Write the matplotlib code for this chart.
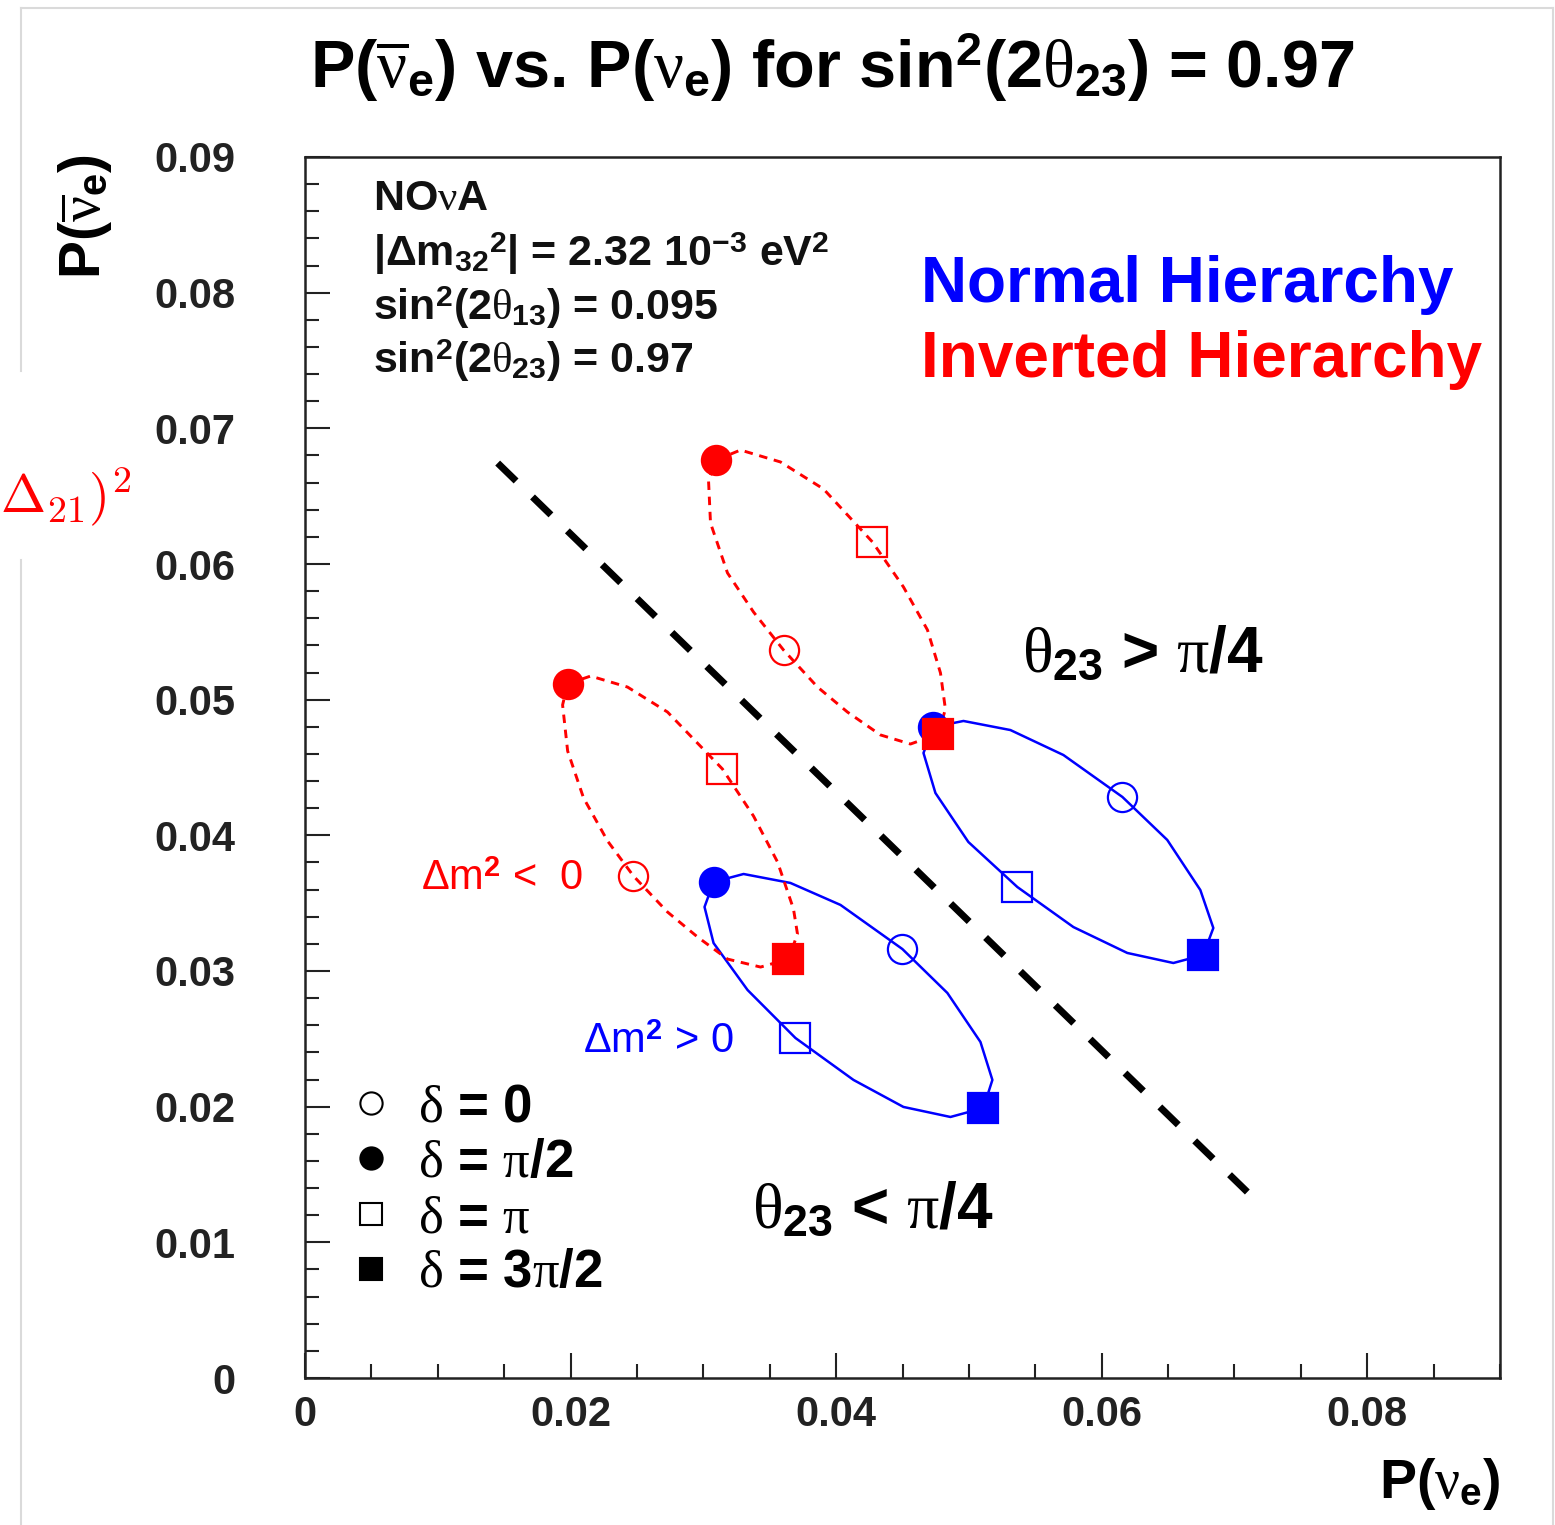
import matplotlib
matplotlib.use("Agg")
import matplotlib.pyplot as plt
from matplotlib.lines import Line2D

plt.rcParams['font.family'] = ['Liberation Sans', 'DejaVu Sans']
plt.rcParams['mathtext.fontset'] = 'custom'
plt.rcParams['mathtext.rm'] = 'Liberation Sans:bold'
plt.rcParams['mathtext.bf'] = 'Liberation Sans:bold'
plt.rcParams['mathtext.it'] = 'Liberation Serif'
plt.rcParams['mathtext.sf'] = 'Liberation Sans'

# ellipses P(nubar) vs P(nu) (closed loops)
nh_hi_x = [0.04733, 0.04959, 0.05313, 0.05712, 0.06156, 0.06494, 0.06743, 0.06841, 0.06765,
           0.06540, 0.06193, 0.05787, 0.05365, 0.04996, 0.04748, 0.04658, 0.04733]
nh_hi_y = [0.04798, 0.04843, 0.04776, 0.04592, 0.04283, 0.03966, 0.03597, 0.03317, 0.03118,
           0.03059, 0.03133, 0.03324, 0.03619, 0.03951, 0.04312, 0.04607, 0.04798]

nh_lo_x = [0.03077, 0.03303, 0.03656, 0.04033, 0.04499, 0.04838, 0.05087, 0.05177, 0.05109,
           0.04861, 0.04507, 0.04131, 0.03694, 0.03333, 0.03077, 0.03009, 0.03077]
nh_lo_y = [0.03656, 0.03715, 0.03649, 0.03487, 0.03162, 0.02838, 0.02477, 0.02197, 0.01990,
           0.01924, 0.01998, 0.02197, 0.02506, 0.02860, 0.03206, 0.03472, 0.03656]

ih_hi_x = [0.03099, 0.03280, 0.03581, 0.03905, 0.04274, 0.04507, 0.04688, 0.04786, 0.04823, 0.04771,
           0.04560, 0.04334, 0.04085, 0.03860, 0.03604, 0.03378, 0.03182, 0.03054, 0.03039, 0.03099]
ih_hi_y = [0.06767, 0.06840, 0.06752, 0.06553, 0.06162, 0.05831, 0.05514, 0.05197, 0.04931, 0.04747,
           0.04673, 0.04740, 0.04909, 0.05093, 0.05366, 0.05646, 0.05934, 0.06302, 0.06619, 0.06767]

ih_lo_x = [0.01978, 0.02151, 0.02429, 0.02730, 0.03144, 0.03378, 0.03559, 0.03679, 0.03709, 0.03641,
           0.03431, 0.03182, 0.02956, 0.02730, 0.02474, 0.02279, 0.02098, 0.01978, 0.01940, 0.01978]
ih_lo_y = [0.05116, 0.05174, 0.05093, 0.04909, 0.04489, 0.04142, 0.03803, 0.03457, 0.03273, 0.03088,
           0.03029, 0.03088, 0.03251, 0.03435, 0.03700, 0.03958, 0.04275, 0.04622, 0.04961, 0.05116]

# marked points, order: delta = 0, pi/2, pi, 3pi/2
nh_hi_mx = [0.06156, 0.04733, 0.05365, 0.06765]
nh_hi_my = [0.04283, 0.04798, 0.03619, 0.03118]
nh_lo_mx = [0.04499, 0.03077, 0.03694, 0.05109]
nh_lo_my = [0.03162, 0.03656, 0.02506, 0.01990]
ih_hi_mx = [0.03604, 0.03099, 0.04274, 0.04771]
ih_hi_my = [0.05366, 0.06767, 0.06162, 0.04747]
ih_lo_mx = [0.02474, 0.01978, 0.03144, 0.03641]
ih_lo_my = [0.03700, 0.05116, 0.04489, 0.03088]

# theta23 = pi/4 separator
sep_x = [0.01451, 0.07097]
sep_y = [0.06744, 0.01371]

delta_labels = [r"$\delta$ = 0", r"$\delta$ = $\pi$/2", r"$\delta$ = $\pi$", r"$\delta$ = 3$\pi$/2"]
marker_shapes = ['o', 'o', 's', 's']
marker_filled = [False, True, False, True]

fig = plt.figure(figsize=(15.55, 15.25), dpi=100)
ax = fig.add_axes([305 / 1555, 147 / 1525, 1195 / 1555, 1221 / 1525])

ax.plot(sep_x, sep_y, color='black', lw=5, dashes=(3.7, 3.3), solid_capstyle='butt')


def draw(cx, cy, mx, my, col, dashed):
    if dashed:
        ax.plot(cx, cy, color=col, lw=2.1, dashes=(2.9, 2.3), zorder=3)
    else:
        ax.plot(cx, cy, color=col, lw=1.8, zorder=3)
    for i in range(4):
        ax.plot(mx[i], my[i], marker=marker_shapes[i], ms=21, mew=1.6, color=col,
                mfc=col if marker_filled[i] else 'none', linestyle='none', zorder=4)


draw(nh_hi_x, nh_hi_y, nh_hi_mx, nh_hi_my, '#0000ff', False)
draw(nh_lo_x, nh_lo_y, nh_lo_mx, nh_lo_my, '#0000ff', False)
draw(ih_hi_x, ih_hi_y, ih_hi_mx, ih_hi_my, '#ff0000', True)
draw(ih_lo_x, ih_lo_y, ih_lo_mx, ih_lo_my, '#ff0000', True)

ax.set_xlim(0, 0.09)
ax.set_ylim(0, 0.09)
ax.set_xticks([0, 0.02, 0.04, 0.06, 0.08])
ax.set_xticklabels(['0', '0.02', '0.04', '0.06', '0.08'])
ax.set_yticks([0, 0.01, 0.02, 0.03, 0.04, 0.05, 0.06, 0.07, 0.08, 0.09])
ax.set_yticklabels(['0', '0.01', '0.02', '0.03', '0.04', '0.05', '0.06', '0.07', '0.08', '0.09'])
ax.set_xticks([i * 0.005 for i in range(19)], minor=True)
ax.set_yticks([i * 0.002 for i in range(46)], minor=True)
ax.tick_params(which='both', direction='in', width=1.5, colors='#222222')
ax.tick_params(which='major', length=18)
ax.tick_params(which='minor', length=10)
ax.tick_params(axis='y', which='major', pad=50)
ax.tick_params(axis='x', which='major', pad=12)
for lab in ax.get_xticklabels() + ax.get_yticklabels():
    lab.set_fontsize(30)
    lab.set_fontweight('bold')
for sp in ax.spines.values():
    sp.set_linewidth(1.8)
    sp.set_color('#222222')

# legend for delta markers
handles = [Line2D([], [], marker=marker_shapes[i], ms=16, mew=1.5, color='black',
                  mfc='black' if marker_filled[i] else 'none', linestyle='none') for i in range(4)]
ax.legend(handles, delta_labels, loc='center left', bbox_to_anchor=(0.0372, 0.1535),
          frameon=False, prop={'family': 'Liberation Sans', 'weight': 'bold', 'size': 38},
          handlelength=0.8, handletextpad=0.5, labelspacing=0.1, borderpad=0, borderaxespad=0)

# info block
info = ["NO$\\nu$A", r"|$\Delta\mathrm{m}_{32}{}^{2}$| = 2.32 10$^{-3}$ eV$^2$",
        r"sin$^2$(2$\theta_{13}$) = 0.095", r"sin$^2$(2$\theta_{23}$) = 0.97"]
base_y = [0.0861, 0.0820, 0.0780, 0.0741]
for t, yy in zip(info, base_y):
    ax.text(0.0051, yy, t, fontsize=31, fontweight='bold', va='baseline', ha='left', color='#111111')

ax.text(0.04636, 0.07931, 'Normal Hierarchy', color='#0000ff', fontsize=46, fontweight='bold',
        va='baseline', ha='left')
ax.text(0.04636, 0.07378, 'Inverted Hierarchy', color='#ff0000', fontsize=46, fontweight='bold',
        va='baseline', ha='left')

ax.text(0.0540, 0.05204, r"$\theta_{23}$ > $\pi$/4", fontsize=46, fontweight='bold', va='baseline', ha='left')
ax.text(0.0337, 0.01106, r"$\theta_{23}$ < $\pi$/4", fontsize=46, fontweight='bold', va='baseline', ha='left')

ax.text(0.00871, 0.03597, "\u0394m$^2$ <  0", color='#ff0000', fontsize=30, va='baseline', ha='left')
ax.text(0.0209, 0.02396, "\u0394m$^2$ > 0", color='#0000ff', fontsize=30, va='baseline', ha='left')

# title and axis labels
fig.text(832 / 1555, 1 - 88 / 1525, r"P($\overline{\nu}_\mathrm{e}$) vs. P($\nu_\mathrm{e}$) for sin$^2$(2$\theta_{23}$) = 0.97",
         fontsize=48, fontweight='bold', ha='center', va='baseline')
fig.text(1500 / 1555, 1 - 1498 / 1525, r"P($\nu_\mathrm{e}$)", fontsize=40, fontweight='bold', ha='right', va='baseline')
fig.text(85 / 1555, 1 - 217 / 1525, r"P($\overline{\nu}_\mathrm{e}$)", fontsize=41, fontweight='bold',
         rotation=90, ha='center', va='center')

# stray red label at the left edge
fig.text(0.0, 1 - 497 / 1525, r"$\Delta_{21})^2$", color='#ff0000', fontsize=39, math_fontfamily='cm',
         ha='left', va='center')

# light grey outer frame
grey = '#dadada'
fig.add_artist(Line2D([21 / 1555, 1553 / 1555], [1 - 8 / 1525, 1 - 8 / 1525], color=grey, lw=1.5, transform=fig.transFigure))
fig.add_artist(Line2D([1553 / 1555, 1553 / 1555], [0, 1 - 8 / 1525], color=grey, lw=1.5, transform=fig.transFigure))
fig.add_artist(Line2D([21 / 1555, 21 / 1555], [1 - 8 / 1525, 1 - 371 / 1525], color=grey, lw=1.5, transform=fig.transFigure))
fig.add_artist(Line2D([21 / 1555, 21 / 1555], [1 - 560 / 1525, 0], color=grey, lw=1.5, transform=fig.transFigure))

fig.savefig('out.png', dpi=100)
